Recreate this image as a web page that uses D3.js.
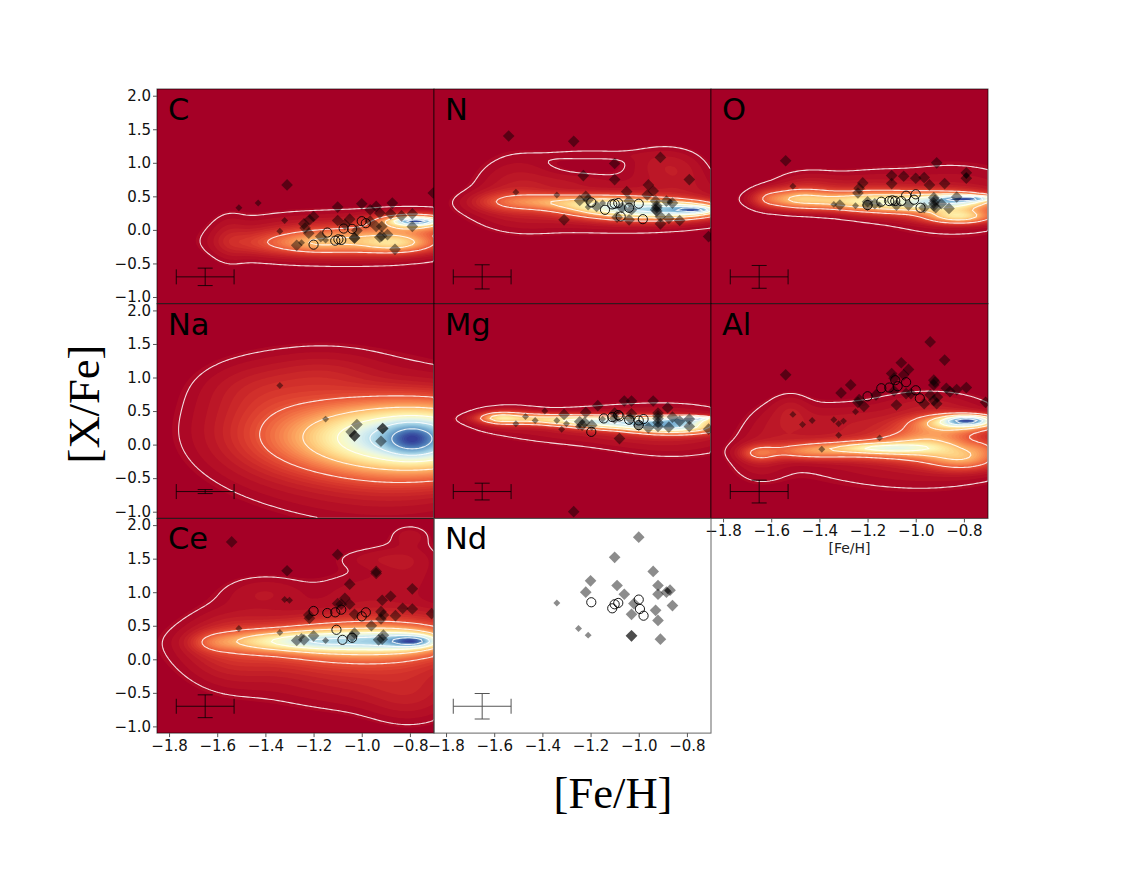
<!DOCTYPE html>
<html>
<head>
<meta charset="utf-8">
<script src="https://cdn.jsdelivr.net/npm/d3@7"></script>
<style>
  body { margin: 0; background: #fff; }
  text { font-family: "DejaVu Sans", sans-serif; }
</style>
</head>
<body>
<div id="visualization"></div>
<script>
// Tick labels
const fehTicks = [-1.8, -1.6, -1.4, -1.2, -1.0, -0.8];
const xfeTicks = [-1.0, -0.5, 0.0, 0.5, 1.0, 1.5, 2.0];
const densityLevels = [0.02, 0.17, 0.33, 0.5, 0.67, 0.85];

// Density: [Fe/H], [X/Fe], spread x, spread y, height
const cDensity = [[-0.77,0.13,0.055,0.03,0.55],[-0.8,0.12,0.09,0.07,0.32],[-0.75,0.1,0.12,0.1,0.18],[-0.85,-0.2,0.1,0.09,0.22],[-1.0,-0.15,0.2,0.14,0.25],[-1.2,-0.2,0.1,0.1,0.13],[-1.4,-0.2,0.12,0.12,0.07],[-1.3,-0.12,0.22,0.24,0.055],[-0.9,-0.1,0.25,0.27,0.05],[-1.55,-0.13,0.05,0.25,0.035]];
const nDensity = [[-0.76,0.3,0.05,0.03,0.42],[-0.8,0.3,0.1,0.07,0.35],[-0.95,0.3,0.15,0.1,0.48],[-1.15,0.36,0.13,0.1,0.33],[-1.35,0.42,0.12,0.08,0.18],[-1.55,0.42,0.1,0.1,0.1],[-1.5,0.6,0.12,0.35,0.06],[-1.1,0.28,0.35,0.22,0.06],[-0.85,0.6,0.15,0.22,0.035],[-0.92,1.0,0.1,0.18,0.04],[-1.2,1.12,0.13,0.06,0.03],[-0.82,0.9,0.08,0.2,0.025],[-1.25,0.72,0.12,0.1,0.03]];
const oDensity = [[-0.77,0.47,0.06,0.018,0.38],[-0.8,0.46,0.08,0.04,0.28],[-0.85,0.42,0.12,0.08,0.27],[-0.82,0.2,0.09,0.07,0.33],[-1.0,0.4,0.18,0.11,0.33],[-1.25,0.43,0.14,0.09,0.24],[-1.5,0.46,0.1,0.1,0.24],[-1.62,0.47,0.04,0.1,0.05],[-0.85,0.45,0.22,0.36,0.05],[-1.45,0.6,0.1,0.18,0.06],[-1.2,0.55,0.12,0.2,0.05]];
const naDensity = [[-0.78,0.1,0.31,0.34,0.74],[-0.79,0.08,0.07,0.16,0.27],[-1.35,0.3,0.22,0.55,0.09],[-0.9,0.32,0.3,0.66,0.05],[-0.9,-0.4,0.3,0.5,0.06],[-1.45,0.85,0.15,0.26,0.03],[-1.15,1.05,0.15,0.23,0.04]];
const mgDensity = [[-0.78,0.39,0.05,0.012,0.45],[-0.8,0.37,0.09,0.035,0.35],[-0.85,0.27,0.12,0.07,0.5],[-1.05,0.32,0.15,0.06,0.45],[-1.25,0.36,0.13,0.05,0.3],[-1.45,0.39,0.12,0.05,0.2],[-1.58,0.4,0.05,0.05,0.18],[-1.2,0.28,0.3,0.19,0.05],[-0.85,0.2,0.2,0.26,0.05],[-1.55,0.4,0.08,0.09,0.12]];
const alDensity = [[-0.78,0.36,0.06,0.045,0.55],[-0.8,0.34,0.1,0.07,0.35],[-0.85,0.3,0.12,0.1,0.2],[-1.14,-0.05,0.13,0.05,0.28],[-1.15,-0.07,0.2,0.1,0.22],[-1.45,-0.1,0.12,0.08,0.18],[-1.65,-0.13,0.05,0.08,0.14],[-0.95,0.02,0.12,0.16,0.22],[-0.8,-0.2,0.1,0.12,0.25],[-0.72,-0.05,0.04,0.08,0.05],[-1.1,-0.05,0.35,0.4,0.05],[-0.9,0.1,0.2,0.38,0.05],[-1.55,0.3,0.1,0.25,0.04],[-1.52,0.55,0.05,0.15,0.03],[-1.3,0.35,0.15,0.18,0.03],[-0.95,0.6,0.12,0.12,0.03],[-1.65,-0.2,0.08,0.25,0.04]];
const ceDensity = [[-0.78,0.27,0.06,0.055,0.36],[-0.82,0.28,0.1,0.1,0.2],[-1.0,0.27,0.2,0.12,0.34],[-1.25,0.27,0.13,0.1,0.22],[-1.45,0.27,0.12,0.1,0.15],[-1.62,0.25,0.06,0.1,0.07],[-0.85,0.3,0.25,0.3,0.12],[-1.05,0.27,0.3,0.22,0.15],[-1.25,0.15,0.3,0.33,0.06],[-1.55,0.2,0.12,0.38,0.06],[-1.4,1.0,0.12,0.18,0.04],[-0.95,-0.35,0.3,0.3,0.05],[-0.8,-0.6,0.12,0.28,0.035],[-0.8,1.4,0.1,0.3,0.035],[-0.95,1.5,0.12,0.12,0.03],[-0.8,1.85,0.05,0.1,0.03],[-1.0,1.05,0.15,0.2,0.03]];

// Large diamonds
const cLarge = [[-1.31,0.67],[-1.1,0.34],[-1,0.39],[-0.965,0.3],[-0.94,0.35],[-0.873,0.4],[-0.925,0.25],[-0.88,0.24],[-0.835,0.21],[-0.79,0.24],[-0.79,0.05],[-0.703,0.55],[-1.2,0.2],[-1.217,0.15],[-1.24,0.09],[-1.235,0.03],[-1.22,-0.05],[-1.1,0.14],[-1.05,0.16],[-1.07,0.08],[-1.02,-0.01],[-1.03,-0.12],[-1.03,-0.12],[-1.17,-0.1],[-1.27,-0.23],[-0.862,-0.29],[-0.917,0.05],[-0.917,-0.09],[-0.925,-0.11],[-0.893,-0.07],[-0.965,0.13],[-0.94,0.05]];
const nLarge = [[-1.54,1.4],[-1.27,1.32],[-1.1,0.99],[-0.91,1.08],[-1.23,0.81],[-1.1,0.75],[-0.96,0.67],[-0.94,0.58],[-0.79,0.75],[-1.05,0.57],[-0.965,0.52],[-1.31,0.15],[-0.71,-0.1],[-1.22,0.5],[-1.245,0.44],[-1.21,0.45],[-1.175,0.35],[-1.04,0.43],[-1.03,0.3],[-1.07,0.33],[-1.09,0.19],[-1.04,0.15],[-0.93,0.43],[-0.925,0.33],[-0.925,0.28],[-0.91,0.2],[-0.91,0.09],[-0.875,0.17],[-0.83,0.14],[-0.885,0.43],[-0.86,0.4],[-0.925,0.36],[-0.93,0.3]];
const oLarge = [[-1.54,1.03],[-0.913,1],[-0.79,0.85],[-0.79,0.77],[-1.1,0.81],[-1.1,0.69],[-1.05,0.8],[-1,0.77],[-0.965,0.78],[-0.943,0.67],[-0.88,0.69],[-1.22,0.7],[-1.235,0.62],[-1.24,0.55],[-1.315,0.37],[-1.2,0.42],[-1.2,0.37],[-1.17,0.39],[-1.08,0.37],[-1.03,0.37],[-0.925,0.48],[-0.925,0.4],[-0.917,0.33],[-0.925,0.36],[-0.965,0.33],[-0.862,0.32],[-0.83,0.49],[-0.894,0.39],[-0.92,0.44]];
const naLarge = [[-1.02,0.3],[-1.044,0.19],[-1.03,0.13],[-1.03,0.13],[-0.913,0.24],[-0.913,0.24],[-0.92,0.05]];
const mgLarge = [[-1.27,-1],[-1.08,0.09],[-1.17,0.58],[-1.06,0.65],[-1.03,0.65],[-0.94,0.65],[-0.88,0.55],[-1.22,0.48],[-1.31,0.45],[-1.1,0.47],[-1.03,0.46],[-0.92,0.47],[-0.92,0.39],[-0.86,0.41],[-0.83,0.35],[-0.79,0.38],[-0.79,0.27],[-0.71,0.23],[-0.96,0.25],[-0.92,0.27],[-0.875,0.26],[-1.245,0.34],[-1.225,0.33],[-1.195,0.29],[-1.235,0.29],[-1.1,0.39],[-1.035,0.39],[-1,0.29],[-0.92,0.33],[-0.92,0.43]];
const alLarge = [[-0.94,1.53],[-0.88,1.26],[-1.06,1.22],[-1.03,1.12],[-1.1,1.06],[-1.05,1.04],[-1.09,0.99],[-1.54,1.04],[-1.27,0.89],[-1.31,0.77],[-0.925,0.96],[-0.92,0.93],[-0.925,0.89],[-1.235,0.67],[-1.24,0.63],[-1.215,0.57],[-1.08,0.59],[-1.09,0.8],[-1.04,0.76],[-1.02,0.76],[-0.965,0.61],[-0.913,0.61],[-0.94,0.74],[-0.91,0.71],[-0.925,0.66],[-0.873,0.84],[-0.858,0.79],[-0.83,0.82],[-0.79,0.85],[-0.71,0.63],[-1.165,0.74]];
const ceLarge = [[-1.54,1.75],[-1.1,1.56],[-1.31,1.32],[-0.94,1.31],[-0.94,1.28],[-1.05,1.12],[-0.79,1.05],[-0.88,0.94],[-0.915,0.88],[-1.07,0.91],[-1.1,0.83],[-1.05,0.82],[-1.085,0.82],[-0.83,0.76],[-0.79,0.75],[-0.92,0.71],[-0.86,0.65],[-0.91,0.66],[-0.92,0.6],[-1.03,0.67],[-1.22,0.66],[-1.217,0.61],[-0.96,0.5],[-1.03,0.39],[-1.04,0.34],[-0.91,0.36],[-0.93,0.29],[-0.915,0.3],[-1.27,0.28],[-1.24,0.29],[-1.2,0.35],[-0.71,0.68]];
const ndLarge = [[-1,1.82],[-1.1,1.52],[-0.94,1.31],[-1.2,1.17],[-1.22,1],[-1.09,1.1],[-1.06,0.97],[-0.92,1.1],[-0.92,0.97],[-0.885,1],[-0.87,1.03],[-0.86,0.8],[-1.02,0.83],[-1.03,0.67],[-0.93,0.73],[-0.92,0.58],[-1.03,0.35],[-1.03,0.35],[-0.91,0.3]];

// Small diamonds
const cSmall = [[-1.51,0.33],[-1.43,0.4],[-1.32,0.14],[-1.34,-0.02],[-1.25,-0.19],[-1.15,-0.15]];
const nSmall = [[-1.51,0.56],[-1.34,0.52],[-1.21,0.34],[-0.87,0.42],[-1.15,0.4]];
const oSmall = [[-1.51,0.65],[-1.34,0.38],[-1.25,0.36],[-1.15,0.37],[-0.79,0.81]];
const naSmall = [[-1.34,0.88],[-1.15,0.38]];
const mgSmall = [[-1.51,0.31],[-1.47,0.42],[-1.43,0.36],[-1.39,0.5],[-1.34,0.36],[-1.3,0.31],[-1.32,0.23],[-1.25,0.27],[-1.15,0.38]];
const alSmall = [[-1.51,0.45],[-1.47,0.3],[-1.43,0.36],[-1.34,0.37],[-1.32,0.31],[-1.3,0.35],[-1.25,0.49],[-1.32,0.14],[-1.39,-0.07],[-1.15,0.1]];
const ceSmall = [[-1.32,0.89],[-1.3,0.88],[-1.51,0.46],[-1.34,0.4],[-1.25,0.34],[-1.15,0.28]];
const ndSmall = [[-1.34,0.84],[-1.25,0.46],[-1.21,0.36],[-0.88,1.02]];

// Open circles
const cOpen = [[-1.2,-0.22],[-1.143,-0.04],[-1.11,-0.16],[-1.097,-0.14],[-1.085,-0.15],[-1.075,0.02],[-1.04,0.015],[-1,0.13],[-0.983,0.1]];
const nOpen = [[-1.197,0.41],[-1.14,0.3],[-1.11,0.38],[-1.1,0.39],[-1.085,0.4],[-1,0.39],[-1.075,0.2],[-0.983,0.16],[-1.04,0.33]];
const oOpen = [[-1.2,0.37],[-1.143,0.42],[-1.11,0.43],[-1.097,0.44],[-1.085,0.43],[-1.06,0.43],[-1.04,0.51],[-1,0.53],[-1.007,0.45],[-0.98,0.33]];
const mgOpen = [[-1.197,0.19],[-1.145,0.39],[-1.11,0.41],[-1.085,0.44],[-1.08,0.42],[-1.04,0.37],[-1,0.29],[-0.98,0.38],[-1,0.36]];
const alOpen = [[-1.2,0.72],[-1.143,0.84],[-1.11,0.85],[-1.085,0.96],[-1.075,0.87],[-1.04,0.93],[-1,0.81],[-0.983,0.69]];
const ceOpen = [[-1.2,0.72],[-1.143,0.69],[-1.11,0.7],[-1.085,0.74],[-1.105,0.44],[-1.08,0.29],[-1.04,0.32],[-1,0.64],[-0.983,0.7]];
const ndOpen = [[-1.197,0.85],[-1.11,0.76],[-1.1,0.82],[-1.085,0.84],[-1,0.89],[-0.995,0.75],[-0.98,0.65]];

// Error bar half length in [X/Fe] per element
const elementNames = ["C", "N", "O", "Na", "Mg", "Al", "Ce", "Nd"];
const yErrors = [0.13, 0.18, 0.17, 0.03, 0.125, 0.17, 0.17, 0.19];
const densities = [cDensity, nDensity, oDensity, naDensity, mgDensity, alDensity, ceDensity, null];
const largeStars = [cLarge, nLarge, oLarge, naLarge, mgLarge, alLarge, ceLarge, ndLarge];
const smallStars = [cSmall, nSmall, oSmall, naSmall, mgSmall, alSmall, ceSmall, ndSmall];
const openStars = [cOpen, nOpen, oOpen, [], mgOpen, alOpen, ceOpen, ndOpen];

const xErr = 0.12, errFeh = -1.65, errXfe = -0.7;
const panelW = 277, panelH = 214.7, left = 157, top0 = 89;
const nx = 120, ny = 100;

const svg = d3.select("#visualization").append("svg")
    .attr("width", 1144)
    .attr("height", 884);

const x = d3.scaleLinear().domain([-1.85, -0.7]).range([0, panelW]);
const y = d3.scaleLinear().domain([-1.1, 2.1]).range([panelH, 0]);

// Grid cells to pixels for the contour paths
const gx = d3.scaleLinear().domain([0, nx]).range([0, panelW]);
const gy = d3.scaleLinear().domain([0, ny]).range([0, panelH]);
const gridPath = d3.geoPath(d3.geoTransform({
  point: function(a, b) { this.stream.point(gx(a), gy(b)); }
}));

function densityGrid(lumps) {
  const values = new Array(nx * ny);
  for (let j = 0; j < ny; j++) {
    const yv = y.invert(gy(j + 0.5));
    for (let i = 0; i < nx; i++) {
      const xv = x.invert(gx(i + 0.5));
      values[j * nx + i] = d3.sum(lumps, l =>
        l[4] * Math.exp(-0.5 * (((xv - l[0]) / l[2]) ** 2 + ((yv - l[1]) / l[3]) ** 2)));
    }
  }
  const peak = d3.max(values);
  return values.map(v => v / peak);
}

elementNames.forEach((name, k) => {
  const col = k % 3, row = Math.floor(k / 3);
  const g = svg.append("g")
      .attr("transform", `translate(${left + col * panelW},${top0 + row * panelH})`);

  g.append("clipPath").attr("id", "clip" + k)
    .append("rect").attr("width", panelW).attr("height", panelH);
  const inner = g.append("g").attr("clip-path", `url(#clip${k})`);

  if (densities[k]) {
    const values = densityGrid(densities[k]);
    inner.append("rect")
        .attr("width", panelW).attr("height", panelH)
        .attr("fill", d3.interpolateRdYlBu(0));
    const fills = d3.contours().size([nx, ny]).thresholds(d3.range(1, 64).map(d => d / 64))(values);
    inner.selectAll("path.fill").data(fills).join("path")
        .attr("class", "fill")
        .attr("d", gridPath)
        .attr("fill", d => d3.interpolateRdYlBu(d.value));
    const lines = d3.contours().size([nx, ny]).thresholds(densityLevels)(values);
    inner.selectAll("path.level").data(lines).join("path")
        .attr("class", "level")
        .attr("d", gridPath)
        .attr("fill", "none")
        .attr("stroke", "#fff")
        .attr("stroke-opacity", 0.85)
        .attr("stroke-width", 1.1);
  }

  // Error bars
  const bar = inner.append("g").attr("stroke", k === 7 ? "#555" : "#000").attr("stroke-opacity", k === 7 ? 1 : 0.8).attr("fill", "none");
  const ex1 = x(errFeh - xErr), ex2 = x(errFeh + xErr), ey1 = y(errXfe - yErrors[k]), ey2 = y(errXfe + yErrors[k]), ex = x(errFeh), ey = y(errXfe);
  bar.append("line").attr("x1", ex1).attr("x2", ex2).attr("y1", ey).attr("y2", ey);
  bar.append("line").attr("x1", ex).attr("x2", ex).attr("y1", ey1).attr("y2", ey2);
  [ex1, ex2].forEach(p => bar.append("line").attr("x1", p).attr("x2", p).attr("y1", ey - 7.5).attr("y2", ey + 7.5));
  [ey1, ey2].forEach(p => bar.append("line").attr("x1", ex - 7.5).attr("x2", ex + 7.5).attr("y1", p).attr("y2", p));

  // Stars
  inner.selectAll("path.large").data(largeStars[k]).join("path")
      .attr("class", "large")
      .attr("d", d3.symbol(d3.symbolSquare, 68))
      .attr("transform", d => `translate(${x(d[0])},${y(d[1])})rotate(45)`)
      .attr("fill", "#000").attr("fill-opacity", 0.45);
  inner.selectAll("path.small").data(smallStars[k]).join("path")
      .attr("class", "small")
      .attr("d", d3.symbol(d3.symbolSquare, 24))
      .attr("transform", d => `translate(${x(d[0])},${y(d[1])})rotate(45)`)
      .attr("fill", "#000").attr("fill-opacity", 0.45);
  inner.selectAll("circle").data(openStars[k]).join("circle")
      .attr("cx", d => x(d[0]))
      .attr("cy", d => y(d[1]))
      .attr("r", 4.6)
      .attr("fill", "none")
      .attr("stroke", "#000")
      .attr("stroke-width", 0.9);

  g.append("text")
      .attr("x", 11)
      .attr("y", 31)
      .style("font-size", "30.5px")
      .text(name);

  // Frame
  g.append("rect")
      .attr("width", panelW).attr("height", panelH)
      .attr("fill", "none")
      .attr("stroke", k === 7 ? "#555" : "#000")
      .attr("stroke-opacity", k === 7 ? 0.9 : 0.65)
      .attr("stroke-width", 1);

  // Axes: left column gets y ticks, bottom of each column gets x ticks
  if (col === 0) {
    const ay = g.append("g")
        .call(d3.axisLeft(y).tickValues(xfeTicks).tickFormat(d3.format(".1f")).tickSize(4).tickPadding(2));
    ay.select(".domain").remove();
    ay.selectAll("text").style("font-size", "15px").attr("fill", "#111");
    ay.selectAll("line").attr("stroke", "#555");
  }
  if (k === 5 || k === 6 || k === 7) {
    const ax = g.append("g")
        .attr("transform", `translate(0,${panelH})`)
        .call(d3.axisBottom(x).tickValues(fehTicks).tickFormat(d3.format(".1f")).tickSize(4).tickPadding(3));
    ax.select(".domain").remove();
    ax.selectAll("text").style("font-size", "15px").attr("fill", "#111");
    ax.selectAll("line").attr("stroke", "#555");
  }
  if (k === 5) {
    g.append("text")
        .attr("x", panelW / 2)
        .attr("y", panelH + 35)
        .attr("text-anchor", "middle")
        .attr("fill", "#222")
        .style("font-size", "14px")
        .text("[Fe/H]");
  }
});

// Big axis titles
svg.append("text")
    .attr("x", 613)
    .attr("y", 808)
    .attr("text-anchor", "middle")
    .style("font-family", "'Liberation Serif', serif")
    .style("font-size", "44.6px")
    .text("[Fe/H]");

svg.append("text")
    .attr("transform", "translate(99,404)rotate(-90)")
    .attr("text-anchor", "middle")
    .style("font-family", "'Liberation Serif', serif")
    .style("font-size", "44.6px")
    .text("[X/Fe]");
</script>
</body>
</html>
